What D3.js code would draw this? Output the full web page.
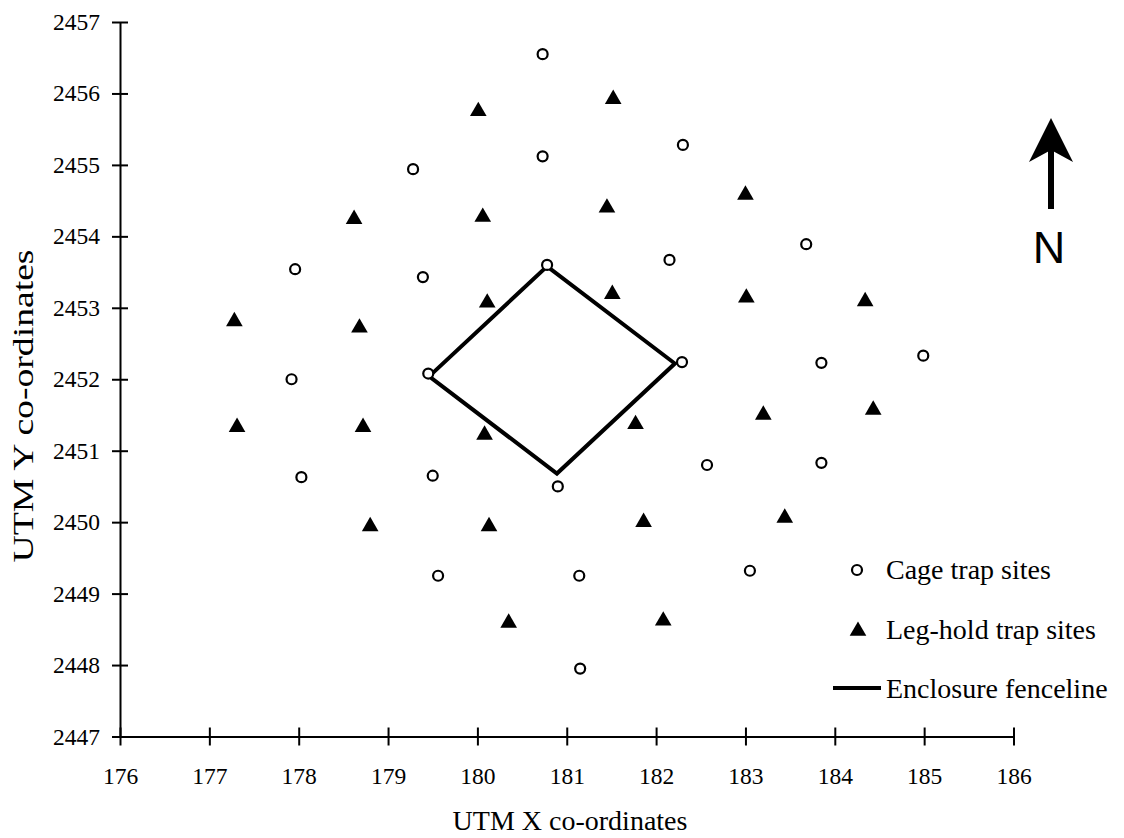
<!DOCTYPE html>
<html>
<head>
<meta charset="utf-8">
<script src="https://cdn.jsdelivr.net/npm/d3@7"></script>
<style>
  body { margin: 0; background: #fff; }
  svg text { font-family: "Liberation Serif", "Times New Roman", serif; fill: #000; }
</style>
</head>
<body>
<script>
// trap site data (UTM km)
var cageSites = [
  [180.73, 2456.55], [180.73, 2455.12], [179.28, 2454.94], [182.30, 2455.28],
  [177.96, 2453.54], [179.39, 2453.43], [180.78, 2453.60], [182.15, 2453.67],
  [183.68, 2453.89], [177.92, 2452.00], [179.45, 2452.08], [182.29, 2452.24],
  [183.85, 2452.23], [184.99, 2452.33], [178.03, 2450.63], [179.50, 2450.65],
  [180.90, 2450.50], [182.57, 2450.80], [183.85, 2450.83], [179.56, 2449.25],
  [181.14, 2449.25], [183.05, 2449.32], [181.15, 2447.95]
];
var legholdSites = [
  [180.01, 2455.75], [181.52, 2455.92], [178.62, 2454.24], [180.06, 2454.27],
  [181.45, 2454.40], [183.00, 2454.58], [177.28, 2452.81], [178.68, 2452.72],
  [180.11, 2453.07], [181.51, 2453.19], [183.01, 2453.14], [184.34, 2453.09],
  [177.31, 2451.33], [178.72, 2451.33], [180.08, 2451.22], [181.77, 2451.37],
  [183.20, 2451.50], [184.43, 2451.57], [178.80, 2449.94], [180.13, 2449.94],
  [181.86, 2450.00], [183.44, 2450.06], [180.35, 2448.59], [182.08, 2448.62]
];
var fenceline = [
  [179.46, 2452.04], [180.78, 2453.58], [182.21, 2452.22], [180.89, 2450.68]
];
var xTicks = d3.range(176, 187);
var yTicks = d3.range(2447, 2458);
var legendLabels = ["Cage trap sites", "Leg-hold trap sites", "Enclosure fenceline"];

var svgWidth = 1124, svgHeight = 838;
var svg = d3.select("body").append("svg")
  .attr("width", svgWidth)
  .attr("height", svgHeight);

var x = d3.scaleLinear().domain([176, 186]).range([120, 1013.5]);
var y = d3.scaleLinear().domain([2447, 2457]).range([736.5, 22]);

// axes, ticks crossing the line
var xAxis = svg.append("g")
  .attr("transform", "translate(0," + y(2447) + ")")
  .call(d3.axisBottom(x).tickValues(xTicks).tickFormat(d3.format("d"))
    .tickSizeInner(9).tickSizeOuter(0).tickPadding(22));
xAxis.selectAll(".tick line").attr("y1", -9);

var yAxis = svg.append("g")
  .attr("transform", "translate(" + x(176) + ",0)")
  .call(d3.axisLeft(y).tickValues(yTicks).tickFormat(d3.format("d"))
    .tickSizeInner(8).tickSizeOuter(0).tickPadding(12));
yAxis.selectAll(".tick line").attr("x1", 8);

svg.selectAll(".domain, .tick line").attr("stroke", "#000").attr("stroke-width", 2);
svg.selectAll(".tick text")
  .style("font-family", "'Liberation Serif', serif")
  .style("font-size", "23.5px");

// axis titles
svg.append("text")
  .attr("x", 570).attr("y", 830)
  .attr("text-anchor", "middle")
  .style("font-size", "28px")
  .text("UTM X co-ordinates");
svg.append("text")
  .attr("transform", "translate(33,406) rotate(-90)")
  .attr("text-anchor", "middle")
  .attr("textLength", 313)
  .attr("lengthAdjust", "spacingAndGlyphs")
  .style("font-size", "29px")
  .text("UTM Y co-ordinates");

// enclosure fence
svg.append("path")
  .datum(fenceline)
  .attr("d", d3.line().x(d => x(d[0])).y(d => y(d[1])).curve(d3.curveLinearClosed))
  .attr("fill", "none")
  .attr("stroke", "#000")
  .attr("stroke-width", 4)
  .attr("stroke-linejoin", "miter");

var tri = d3.symbol().type(d3.symbolTriangle).size(120);

svg.selectAll(".leghold")
  .data(legholdSites)
  .enter().append("path")
  .attr("class", "leghold")
  .attr("d", tri)
  .attr("transform", d => "translate(" + x(d[0]) + "," + y(d[1]) + ")")
  .attr("fill", "#000");

svg.selectAll(".cage")
  .data(cageSites)
  .enter().append("circle")
  .attr("class", "cage")
  .attr("cx", d => x(d[0]))
  .attr("cy", d => y(d[1]))
  .attr("r", 5)
  .attr("fill", "#fff")
  .attr("stroke", "#000")
  .attr("stroke-width", 2.2);

// legend
var legend = svg.append("g");
legend.append("circle")
  .attr("cx", 857).attr("cy", 570).attr("r", 5)
  .attr("fill", "#fff").attr("stroke", "#000").attr("stroke-width", 2.2);
legend.append("path")
  .attr("d", tri)
  .attr("transform", "translate(858,631)")
  .attr("fill", "#000");
legend.append("line")
  .attr("x1", 833).attr("x2", 881).attr("y1", 688).attr("y2", 688)
  .attr("stroke", "#000").attr("stroke-width", 4);
legend.selectAll("text")
  .data(legendLabels)
  .enter().append("text")
  .attr("x", 886)
  .attr("y", (d, i) => [579, 639, 698][i])
  .style("font-size", "28px")
  .text(d => d);

// north arrow
var north = svg.append("g");
north.append("rect")
  .attr("x", 1048).attr("y", 148).attr("width", 6).attr("height", 61)
  .attr("fill", "#000");
north.append("path")
  .attr("d", "M1051,118 L1073,162 L1051,150 L1029,162 Z")
  .attr("fill", "#000");
north.append("text")
  .attr("x", 1049).attr("y", 263)
  .attr("text-anchor", "middle")
  .style("font-family", "'Liberation Sans', Arial, sans-serif")
  .style("font-size", "45px")
  .text("N");
</script>
</body>
</html>
